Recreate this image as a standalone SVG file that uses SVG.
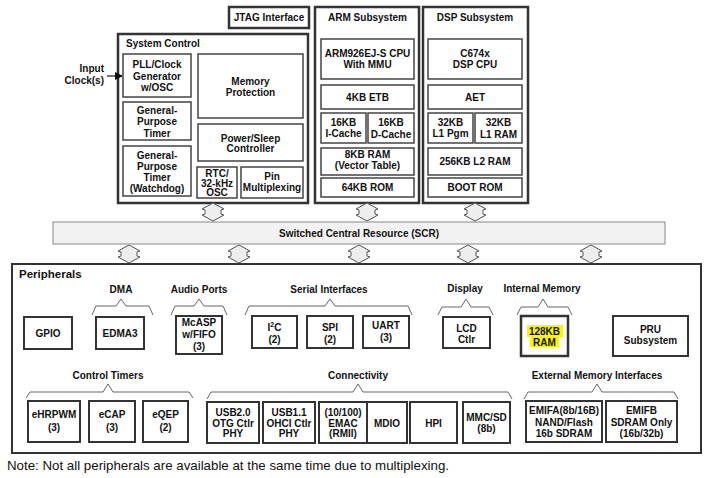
<svg xmlns="http://www.w3.org/2000/svg" xmlns:xlink="http://www.w3.org/1999/xlink" width="709" height="478" viewBox="0 0 709 478">
<style>
text{font-family:"Liberation Sans",Arial,sans-serif;font-weight:bold;font-size:10px;fill:#111;text-anchor:middle}
.outer{fill:#fff;stroke:#333;stroke-width:2.5}
.ib{fill:#fff;stroke:#444;stroke-width:1.5}
.pb{fill:#fff;stroke:#333;stroke-width:2}
.br{fill:none;stroke:#666;stroke-width:1}
.arr{fill:#eeeeee;stroke:#555;stroke-width:1}
.l{text-anchor:start}
</style>
<defs>
<path id="dbl" d="M0,0 L11,6 L8,7 L8,11 L11,12 L0,18 L-11,12 L-8,11 L-8,7 L-11,6 Z"/>
<marker id="ah" markerWidth="8" markerHeight="8" refX="7" refY="4" orient="auto" markerUnits="userSpaceOnUse"><path d="M0,0 L8,4 L0,8 Z" fill="#111"/></marker>
</defs>
<rect width="709" height="478" fill="#fff"/>

<g id="jtag"><rect class="outer" x="229" y="7" width="80" height="21"/><text x="269" y="21">JTAG Interface</text></g>

<g id="system-control">
<rect class="outer" x="118" y="34" width="190" height="169"/>
<text class="l" x="126" y="47">System Control</text>
<g id="pll"><rect class="ib" x="123" y="54" width="68" height="43"/><text x="157" y="68">PLL/Clock</text><text x="157" y="79.5">Generator</text><text x="157" y="91">w/OSC</text></g>
<g id="memprot"><rect class="ib" x="198" y="54" width="105" height="64"/><text x="250.5" y="84.5">Memory</text><text x="250.5" y="96">Protection</text></g>
<g id="gpt"><rect class="ib" x="123" y="102" width="68" height="38"/><text x="157" y="113.5">General-</text><text x="157" y="125">Purpose</text><text x="157" y="136.5">Timer</text></g>
<g id="power"><rect class="ib" x="198" y="124" width="105" height="37"/><text x="250.5" y="141.5">Power/Sleep</text><text x="250.5" y="152">Controller</text></g>
<g id="watchdog"><rect class="ib" x="123" y="146" width="68" height="50"/><text x="157" y="158.5">General-</text><text x="157" y="169.5">Purpose</text><text x="157" y="180.5">Timer</text><text x="157" y="191.5">(Watchdog)</text></g>
<g id="rtc"><rect class="ib" x="197" y="167" width="40" height="31"/><text x="217" y="176.5">RTC/</text><text x="217" y="186.5">32-kHz</text><text x="217" y="196">OSC</text></g>
<g id="pinmux"><rect class="ib" x="241" y="167" width="62" height="31"/><text x="272" y="179.5">Pin</text><text x="272" y="190.5">Multiplexing</text></g>
</g>

<g id="input-clock"><text x="104" y="72" style="text-anchor:end">Input</text><text x="104" y="83.5" style="text-anchor:end">Clock(s)</text><line x1="107" y1="76" x2="122" y2="76" stroke="#111" stroke-width="1.2" marker-end="url(#ah)"/></g>

<g id="arm">
<rect class="outer" x="315" y="7" width="104" height="196"/>
<text x="367.5" y="20.5">ARM Subsystem</text>
<g id="arm-cpu"><rect class="ib" x="321" y="39" width="93" height="40"/><text x="367.5" y="56.5">ARM926EJ-S CPU</text><text x="367.5" y="67.5">With MMU</text></g>
<g id="arm-etb"><rect class="ib" x="321" y="85" width="93" height="24"/><text x="367.5" y="100.5">4KB ETB</text></g>
<g id="arm-icache"><rect class="ib" x="321" y="113" width="45" height="30"/><text x="343.5" y="125.5">16KB</text><text x="343.5" y="136.5">I-Cache</text></g>
<g id="arm-dcache"><rect class="ib" x="368" y="113" width="46" height="30"/><text x="391" y="126">16KB</text><text x="391" y="137.5">D-Cache</text></g>
<g id="arm-ram"><rect class="ib" x="321" y="148" width="93" height="27"/><text x="367.5" y="157.5">8KB RAM</text><text x="367.5" y="169">(Vector Table)</text></g>
<g id="arm-rom"><rect class="ib" x="321" y="178" width="93" height="19"/><text x="367.5" y="191">64KB ROM</text></g>
</g>

<g id="dsp">
<rect class="outer" x="423" y="7" width="105" height="196"/>
<text x="475" y="20.5">DSP Subsystem</text>
<g id="dsp-cpu"><rect class="ib" x="428" y="39" width="94" height="40"/><text x="475" y="56.5">C674x</text><text x="475" y="67.5">DSP CPU</text></g>
<g id="dsp-aet"><rect class="ib" x="428" y="85" width="94" height="24"/><text x="475" y="100.5">AET</text></g>
<g id="dsp-l1p"><rect class="ib" x="428" y="113" width="45" height="30"/><text x="450.5" y="125.5">32KB</text><text x="450.5" y="136.5">L1 Pgm</text></g>
<g id="dsp-l1d"><rect class="ib" x="475" y="113" width="47" height="30"/><text x="498.5" y="126">32KB</text><text x="498.5" y="137.5">L1 RAM</text></g>
<g id="dsp-l2"><rect class="ib" x="428" y="148" width="94" height="27"/><text x="475" y="165">256KB L2 RAM</text></g>
<g id="dsp-rom"><rect class="ib" x="428" y="178" width="94" height="19"/><text x="475" y="191">BOOT  ROM</text></g>
</g>

<g id="scr"><rect x="53" y="222" width="612" height="22" fill="#f2f2f2" stroke="#888" stroke-width="1"/><text x="359" y="237">Switched Central Resource (SCR)</text></g>

<g id="connectors">
<use xlink:href="#dbl" class="arr" x="213" y="203"/>
<use xlink:href="#dbl" class="arr" x="367" y="203"/>
<use xlink:href="#dbl" class="arr" x="475" y="203"/>
<use xlink:href="#dbl" class="arr" x="129" y="245"/>
<use xlink:href="#dbl" class="arr" x="239" y="245"/>
<use xlink:href="#dbl" class="arr" x="359" y="245"/>
<use xlink:href="#dbl" class="arr" x="468" y="245"/>
<use xlink:href="#dbl" class="arr" x="591" y="245"/>
</g>

<g id="peripherals">
<rect x="12" y="264" width="689" height="189" fill="#fff" stroke="#333" stroke-width="2"/>
<text class="l" x="19" y="278" style="font-size:11.5px">Peripherals</text>

<text x="121" y="293">DMA</text>
<path class="br" d="M92,315 L96,306 L116,306 L121,299 L126,306 L149,306 L153,315"/>
<text x="199" y="293">Audio Ports</text>
<path class="br" d="M171,315 L175,306 L194,306 L199,299 L204,306 L223,306 L227,315"/>
<text x="329" y="293">Serial Interfaces</text>
<path class="br" d="M245,315 L249,306 L325,306 L330,299 L335,306 L408,306 L412,315"/>
<text x="465" y="292">Display</text>
<path class="br" d="M438,315 L442,307 L461,307 L466,299 L471,307 L489,307 L493,315"/>
<text x="542" y="292">Internal Memory</text>
<path class="br" d="M517,315 L521,307 L538,307 L543,299 L548,307 L568,307 L572,315"/>

<text x="108" y="379">Control Timers</text>
<path class="br" d="M26,398 L30,392 L103,392 L108,384 L113,392 L189,392 L193,398"/>
<text x="358" y="379">Connectivity</text>
<path class="br" d="M207,399 L211,392 L353,392 L358,384 L363,392 L508,392 L512,399"/>
<text x="597" y="379">External Memory Interfaces</text>
<path class="br" d="M524,399 L528,392 L592,392 L597,384 L602,392 L674,392 L678,399"/>

<g id="gpio"><rect class="pb" x="24" y="317" width="48" height="32"/><text x="48" y="336.5">GPIO</text></g>
<g id="edma3"><rect class="pb" x="96" y="317" width="48" height="32"/><text x="120" y="336.5">EDMA3</text></g>
<g id="mcasp"><rect class="pb" x="176" y="316" width="46" height="38"/><text x="199" y="325.5">McASP</text><text x="199" y="337.5">w/FIFO</text><text x="199" y="349.5">(3)</text></g>
<g id="i2c"><rect class="pb" x="252" y="316" width="45" height="32"/><text x="274.5" y="330.5">I<tspan dy="-4" style="font-size:7px">2</tspan><tspan dy="4">C</tspan></text><text x="274.5" y="342.5">(2)</text></g>
<g id="spi"><rect class="pb" x="307" y="316" width="46" height="32"/><text x="330" y="330.5">SPI</text><text x="330" y="342.5">(2)</text></g>
<g id="uart"><rect class="pb" x="363" y="316" width="46" height="32"/><text x="386" y="328.5">UART</text><text x="386" y="340.5">(3)</text></g>
<g id="lcd"><rect class="pb" x="443" y="317" width="47" height="31"/><text x="466.5" y="331.5">LCD</text><text x="466.5" y="342.5">Ctlr</text></g>
<g id="ram128"><rect class="pb" x="521" y="316" width="47" height="40" style="stroke-width:2.5"/><rect x="527" y="325" width="36" height="12" fill="#f7f700"/><rect x="530" y="336" width="29" height="11" fill="#f7f700"/><text x="544.5" y="334.5">128KB</text><text x="544.5" y="345.5">RAM</text></g>
<g id="pru"><rect class="pb" x="613" y="316" width="75" height="40"/><text x="650.5" y="332.5">PRU</text><text x="650.5" y="343.5">Subsystem</text></g>

<g id="ehrpwm"><rect class="pb" x="28" y="401" width="52" height="41"/><text x="54" y="417.5">eHRPWM</text><text x="54" y="430.5">(3)</text></g>
<g id="ecap"><rect class="pb" x="89" y="401" width="46" height="41"/><text x="112" y="417.5">eCAP</text><text x="112" y="430.5">(3)</text></g>
<g id="eqep"><rect class="pb" x="143" y="401" width="45" height="41"/><text x="165.5" y="417.5">eQEP</text><text x="165.5" y="430.5">(2)</text></g>
<g id="usb20"><rect class="pb" x="207" y="402" width="52" height="41"/><text x="233" y="415.5">USB2.0</text><text x="233" y="426.5">OTG Ctlr</text><text x="233" y="437">PHY</text></g>
<g id="usb11"><rect class="pb" x="263" y="402" width="52" height="41"/><text x="289" y="415.5">USB1.1</text><text x="289" y="426.5">OHCI Ctlr</text><text x="289" y="437">PHY</text></g>
<g id="emac"><rect class="pb" x="319" y="402" width="48" height="41"/><text x="343" y="415.5">(10/100)</text><text x="343" y="426.5">EMAC</text><text x="343" y="437">(RMII)</text></g>
<g id="mdio"><rect class="pb" x="367" y="402" width="40" height="41"/><text x="387" y="426.5">MDIO</text></g>
<g id="hpi"><rect class="pb" x="410" y="402" width="47" height="41"/><text x="433.5" y="426.5">HPI</text></g>
<g id="mmcsd"><rect class="pb" x="463" y="402" width="47" height="41"/><text x="486.5" y="420.5">MMC/SD</text><text x="486.5" y="431.5">(8b)</text></g>
<g id="emifa"><rect class="pb" x="526" y="401" width="76" height="41"/><text x="564" y="413.5">EMIFA(8b/16B)</text><text x="564" y="425.5">NAND/Flash</text><text x="564" y="436.5">16b SDRAM</text></g>
<g id="emifb"><rect class="pb" x="606" y="401" width="71" height="41"/><text x="641.5" y="413.5">EMIFB</text><text x="641.5" y="425.5">SDRAM Only</text><text x="641.5" y="436.5">(16b/32b)</text></g>
</g>

<text class="l" x="7" y="470" style="font-weight:normal;font-size:13.3px">Note: Not all peripherals are available at the same time due to multiplexing.</text>
</svg>
